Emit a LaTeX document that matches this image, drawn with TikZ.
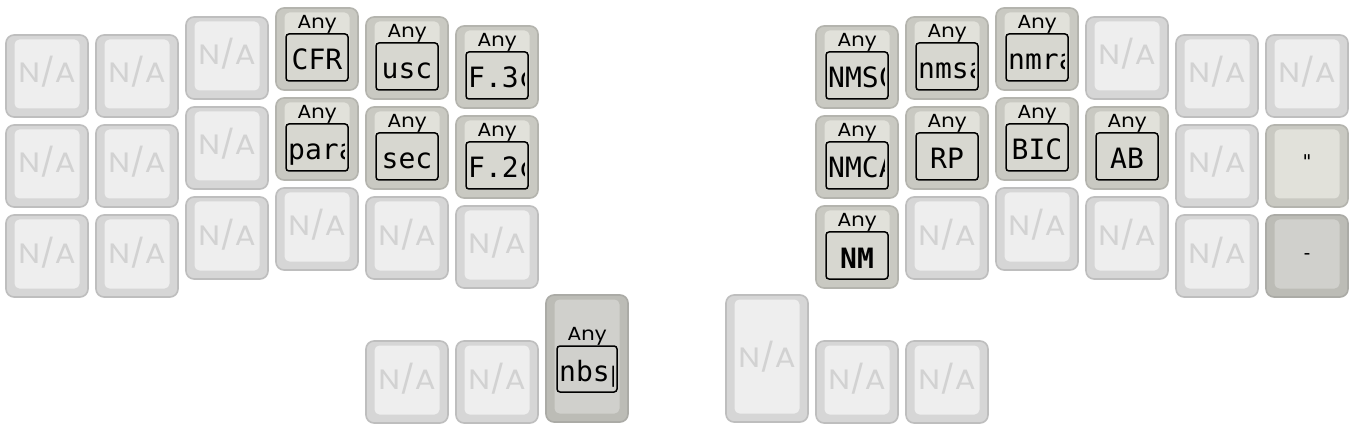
\documentclass[tikz,border=0pt]{standalone}
\usepackage{fontspec}
\newfontfamily\capfont[FakeStretch=1.1]{Poppins}
\newfontfamily\lblfont{DejaVu Sans Mono}
\definecolor{naedge}{HTML}{BEBEBE}
\definecolor{naside}{HTML}{D6D6D6}
\definecolor{naface}{HTML}{EEEEEE}
\definecolor{natxt}{HTML}{D2D2D2}
\definecolor{anyedge}{HTML}{B4B4AE}
\definecolor{anyside}{HTML}{C9C9C2}
\definecolor{anyface}{HTML}{E1E1DA}
\definecolor{anybox}{HTML}{D7D7D0}
\definecolor{darkedge}{HTML}{ABABA6}
\definecolor{darkside}{HTML}{BCBCB6}
\definecolor{darkface}{HTML}{D0D0CC}
\begin{document}
\begin{tikzpicture}[x=1pt,y=-1pt,
nakey/.style={
  draw=naedge,
  fill=naside,
  line width=1.6pt,
  rounded corners=8pt},
anykey/.style={nakey, draw=anyedge, fill=anyside},
darkkey/.style={nakey, draw=darkedge, fill=darkside},
topface/.style={rounded corners=5pt},
natext/.style={
  anchor=base,
  inner sep=0pt,
  text=natxt,
  font=\capfont\fontsize{28}{28}\selectfont},
anytext/.style={
  anchor=base,
  inner sep=0pt,
  font=\capfont\fontsize{19}{19}\selectfont},
lblbox/.style={
  draw=black,
  line width=1.5pt,
  rounded corners=3pt},
lbltext/.style={
  inner sep=0pt,
  font=\lblfont\fontsize{28}{28}\selectfont}
]
\useasboundingbox[fill=white] (0,0) rectangle (1356,430);
% keys that have no binding
\foreach \X/\Y/\N in {6/35/na00,96/35/na01,186/17/na02,
    1086/17/na12,1176/35/na13,1266/35/na14,
    6/125/na10,96/125/na11,186/107/na12b,1176/125/na1d,
    6/215/na20,96/215/na21,186/197/na22,276/188/na23,366/197/na24,456/206/na25,
    906/197/na2a,996/188/na2b,1086/197/na2c,1176/215/na2d,
    366/341/th0,456/341/th1,816/341/th4,906/341/th5}{
  \draw[nakey] (\X,\Y) rectangle ++(82,82);
  \fill[naface,topface] (\X+8.5,\Y+4.5) rectangle ++(65,69);
  \node[natext] (\N) at (\X+41,\Y+48) {N/A};
}
\draw[nakey] (726,295) rectangle ++(82,127);
\fill[naface,topface] (734.5,299.5) rectangle ++(65,114);
\node[natext] (th3) at (767,367) {N/A};
% bound keys, short labels
\foreach \X/\Y/\T/\N in {276/8/CFR/cfr,366/17/usc/usc,366/107/sec/sec,
    906/107/RP/rp,996/98/BIC/bic,1086/107/AB/ab,816/206/\textbf{NM}/nm}{
  \draw[anykey] (\X,\Y) rectangle ++(82,82);
  \fill[anyface,topface] (\X+8.5,\Y+4.5) rectangle ++(65,69);
  \node[anytext] (\N any) at (\X+41,\Y+21) {Any};
  \draw[lblbox,fill=anybox] (\X+10,\Y+26) rectangle (\X+72,\Y+73);
  \node[lbltext,anchor=base] (\N) at (\X+41,\Y+62) {\T};
}
% bound keys, labels cut short
\foreach \X/\Y/\T/\N in {456/26/F.3c/fa,276/98/para/para,456/116/F.2c/fb,
    816/26/NMSC/nmsc,906/17/nmsa/nmsa,996/8/nmra/nmra,816/116/NMCA/nmca}{
  \draw[anykey] (\X,\Y) rectangle ++(82,82);
  \fill[anyface,topface] (\X+8.5,\Y+4.5) rectangle ++(65,69);
  \node[anytext] (\N any) at (\X+41,\Y+21) {Any};
  \fill[anybox,rounded corners=3pt] (\X+10,\Y+26) rectangle (\X+72,\Y+73);
  \begin{scope}
    \clip (\X+11,\Y+27) rectangle (\X+68,\Y+72);
    \node[lbltext,anchor=base west] (\N) at (\X+12,\Y+62) {\T};
  \end{scope}
  \draw[lblbox] (\X+10,\Y+26) rectangle (\X+72,\Y+73);
}
% tall thumb key
\draw[darkkey] (546,295) rectangle ++(82,127);
\fill[darkface,topface] (554.5,299.5) rectangle ++(65,114);
\node[anytext] (nbspany) at (587,340) {Any};
\fill[darkface,rounded corners=3pt] (557,346) rectangle (617,392);
\begin{scope}
  \clip (558,347) rectangle (613.5,391);
  \node[lbltext,anchor=base west] (nbsp) at (559,381) {nbsp};
\end{scope}
\draw[lblbox] (557,346) rectangle (617,392);
% plain symbol keys
\draw[anykey] (1266,125) rectangle ++(82,82);
\fill[anyface,topface] (1274.5,129.5) rectangle ++(65,69);
\node[lbltext,anchor=base,font=\lblfont\fontsize{19}{19}\selectfont] (quote) at (1307,169) {"};
\draw[darkkey] (1266,215) rectangle ++(82,82);
\fill[darkface,topface] (1274.5,219.5) rectangle ++(65,69);
\node[lbltext,anchor=base,font=\lblfont\fontsize{19}{19}\selectfont] (dash) at (1307,259) {-};
\end{tikzpicture}
\end{document}
